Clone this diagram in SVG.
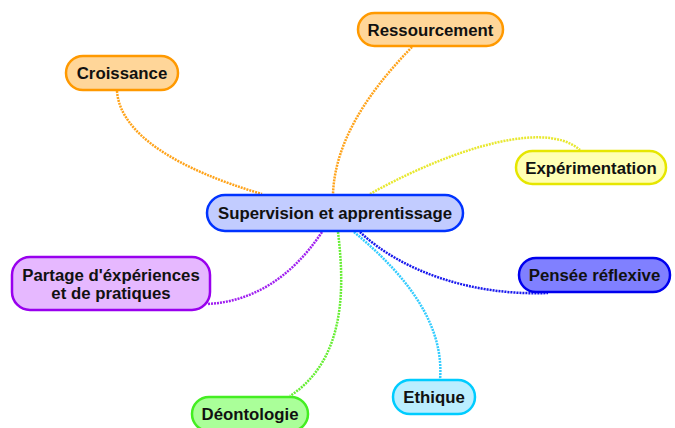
<svg xmlns="http://www.w3.org/2000/svg" width="675" height="428" viewBox="0 0 675 428">
<style>
text{font-family:"Liberation Sans",Arial,sans-serif;font-weight:bold;font-size:16.8px;fill:#111;text-anchor:middle}
.n{stroke-width:2.5}
.c{fill:none;stroke-width:2.5;stroke-dasharray:2 1}
</style>
<rect width="675" height="428" fill="#fff"/>
<g id="connectors">
<path class="c" stroke="#ffa31a" d="M117,91 C120,135 180,170 262,194"/>
<path class="c" stroke="#ffa31a" d="M412,47 C370,90 335,140 333,194"/>
<path class="c" stroke="#e8e830" d="M370,194 C430,160 540,115 580,150"/>
<path class="c" stroke="#a020f0" d="M322,232 C290,280 250,302 207,304"/>
<path class="c" stroke="#66ee33" d="M338,232 C345,290 345,360 290,396"/>
<path class="c" stroke="#1a1aee" d="M360,232 C400,270 470,296 548,293"/>
<path class="c" stroke="#33ccff" d="M354,232 C400,270 445,320 440,380"/>
</g>
<g id="n-croissance"><rect class="n" x="66" y="56" width="112" height="34" rx="17" fill="#ffd699" stroke="#ff9900"/><text x="122" y="79">Croissance</text></g>
<g id="n-ressourcement"><rect class="n" x="358" y="13" width="145" height="33" rx="16.5" fill="#ffd699" stroke="#ff9900"/><text x="430.5" y="35.5">Ressourcement</text></g>
<g id="n-experimentation"><rect class="n" x="516" y="151" width="150" height="33" rx="16.5" fill="#ffffb3" stroke="#e6e600"/><text x="591" y="173.5">Expérimentation</text></g>
<g id="n-central"><rect class="n" x="207" y="195" width="256" height="36" rx="18" fill="#c2ccff" stroke="#0033ff"/><text x="335" y="219">Supervision et apprentissage</text></g>
<g id="n-partage"><rect class="n" x="12" y="257" width="198" height="53" rx="18" fill="#e6b8ff" stroke="#9900ee"/><text x="111" y="280.5">Partage d'éxpériences</text><text x="111" y="298.5">et de pratiques</text></g>
<g id="n-pensee"><rect class="n" x="519" y="258" width="151" height="34" rx="17" fill="#8080ff" stroke="#0000ee"/><text x="594.5" y="281">Pensée réflexive</text></g>
<g id="n-ethique"><rect class="n" x="393" y="380" width="82" height="34" rx="17" fill="#bbeeff" stroke="#00ccff"/><text x="434" y="403">Ethique</text></g>
<g id="n-deontologie"><rect class="n" x="192" y="397" width="116" height="34" rx="17" fill="#aaff99" stroke="#44ee22"/><text x="250" y="420">Déontologie</text></g>
</svg>
